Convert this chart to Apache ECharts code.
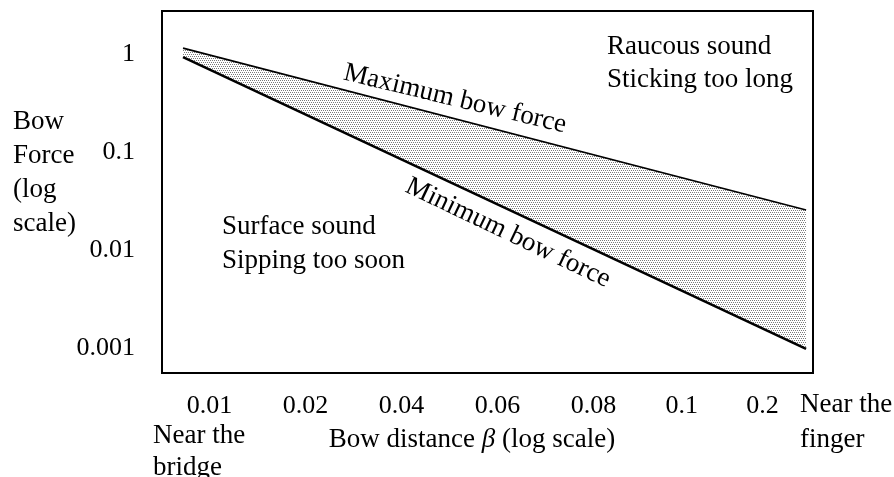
<!DOCTYPE html>
<html>
<head>
<meta charset="utf-8">
<script src="https://cdn.jsdelivr.net/npm/echarts@6/dist/echarts.min.js"></script>
<style>
  html, body { margin: 0; padding: 0; background: #fff; }
  #chart { width: 894px; height: 477px; }
</style>
</head>
<body>
<div id="chart"></div>
<script>
// Bow distance tick labels and the slot each one occupies along the β axis
const betaTickLabels = ['0.01', '0.02', '0.04', '0.06', '0.08', '0.1', '0.2'];
const betaTickSlots = [0, 1, 2, 3, 4, 4.92, 5.76];

// Bow force tick labels (log axis)
const forceTicks = [1, 0.1, 0.01, 0.001];

// Playable-region boundaries: [β slot, bow force]
const maxForceLine = [[-0.276, 1.15], [6.214, 0.0256]];
const minForceLine = [[-0.276, 0.93], [6.214, 0.00098]];

const SERIF = '"Liberation Serif", "Times New Roman", serif';

// Fine stipple used to shade the region between the two limits
function makeStipple() {
  const c = document.createElement('canvas');
  c.width = 4; c.height = 4;
  const g = c.getContext('2d');
  g.fillStyle = '#ffffff';
  g.fillRect(0, 0, 4, 4);
  g.fillStyle = '#7a7a7a';
  [[0, 0], [2, 0], [1, 2], [3, 2]].forEach(p => g.fillRect(p[0], p[1], 1, 1));
  return c;
}
const stipple = makeStipple();

const chart = echarts.init(document.getElementById('chart'), null, { renderer: 'canvas' });

function txt(text, x, y, opts) {
  opts = opts || {};
  return {
    type: 'text',
    x: x, y: y,
    rotation: opts.rotation || 0,
    silent: true,
    style: {
      text: text,
      font: (opts.size || 27) + 'px ' + SERIF,
      fill: '#000',
      align: opts.align || 'left',
      verticalAlign: 'middle',
      rich: opts.rich
    }
  };
}

const option = {
  backgroundColor: '#fff',
  animation: false,
  grid: {
    left: 162, top: 11, width: 651, height: 362,
    show: true, borderColor: '#000', borderWidth: 2, backgroundColor: 'transparent'
  },
  xAxis: {
    type: 'value',
    min: -0.495, max: 6.286,
    axisLine: { show: false },
    axisTick: { show: false },
    splitLine: { show: false },
    axisLabel: {
      customValues: betaTickSlots,
      margin: 20,
      color: '#000',
      fontFamily: SERIF,
      fontSize: 26,
      formatter: v => {
        const i = betaTickSlots.findIndex(s => Math.abs(s - v) < 1e-6);
        return i >= 0 ? betaTickLabels[i] : '';
      }
    }
  },
  yAxis: {
    type: 'log',
    logBase: 10,
    min: 5.56e-4, max: 2.75,
    axisLine: { show: false },
    axisTick: { show: false },
    splitLine: { show: false },
    axisLabel: {
      margin: 27,
      color: '#000',
      fontFamily: SERIF,
      fontSize: 26,
      formatter: v => {
        const r = +(+v).toPrecision(3);
        return forceTicks.indexOf(r) >= 0 ? String(r) : '';
      }
    }
  },
  series: [
    {
      type: 'custom',
      silent: true,
      z: 1,
      data: [[maxForceLine[0][0], maxForceLine[0][1]]],
      renderItem: (params, api) => {
        const pts = maxForceLine.map(p => api.coord(p))
          .concat(minForceLine.slice().reverse().map(p => api.coord(p)));
        return {
          type: 'polygon',
          shape: { points: pts },
          style: { fill: { image: stipple, repeat: 'repeat' }, stroke: null }
        };
      }
    },
    {
      name: 'Maximum bow force',
      type: 'line',
      data: maxForceLine,
      symbol: 'none',
      silent: true,
      z: 3,
      lineStyle: { color: '#000', width: 1.6 }
    },
    {
      name: 'Minimum bow force',
      type: 'line',
      data: minForceLine,
      symbol: 'none',
      silent: true,
      z: 3,
      lineStyle: { color: '#000', width: 2.6 }
    }
  ],
  graphic: [
    txt('Bow', 13, 122),
    txt('Force', 13, 156),
    txt('(log', 13, 190),
    txt('scale)', 13, 224),
    txt('Raucous sound', 607, 47),
    txt('Sticking too long', 607, 80),
    txt('Surface sound', 222, 227),
    txt('Sipping too soon', 222, 261),
    txt('Maximum bow force', 455, 99, { align: 'center', rotation: -13.5 * Math.PI / 180 }),
    txt('Minimum bow force', 508, 233, { align: 'center', rotation: -25.5 * Math.PI / 180 }),
    txt('Near the', 153, 436),
    txt('bridge', 153, 468),
    txt('Bow distance {i|β} (log scale)', 472, 440, {
      align: 'center',
      rich: { i: { font: 'italic 27px ' + SERIF } }
    }),
    txt('Near the', 800, 405),
    txt('finger', 800, 440)
  ]
};

chart.setOption(option);
</script>
</body>
</html>
